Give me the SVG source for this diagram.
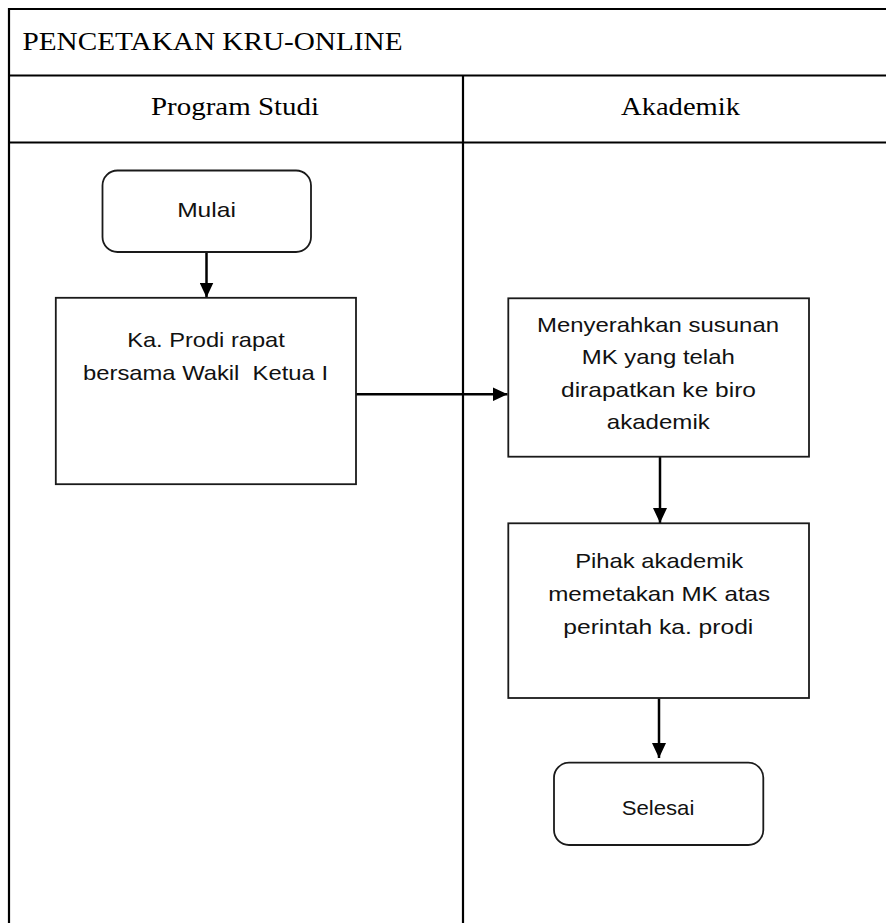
<svg xmlns="http://www.w3.org/2000/svg" width="886" height="923" viewBox="0 0 886 923">
<style>
.frame{stroke:#000;stroke-width:2.2;fill:none}
.box{fill:#fff;stroke:#1a1a1a;stroke-width:1.8}
.t{font-family:"Liberation Sans",Arial,sans-serif;font-size:21px;fill:#111;text-anchor:middle}
.h{font-family:"Liberation Serif","Times New Roman",serif;font-size:25px;fill:#000}
.c{stroke:#000;stroke-width:2.5;fill:none;marker-end:url(#ah)}
</style>
<defs>
<marker id="ah" viewBox="0 0 15 14" refX="15" refY="7" markerWidth="15" markerHeight="14" markerUnits="userSpaceOnUse" orient="auto">
<path d="M0,0 L15,7 L0,14 z" fill="#000"/>
</marker>
</defs>
<rect width="886" height="923" fill="#fff"/>
<g id="frame">
<line class="frame" x1="9" y1="8" x2="9" y2="923"/>
<line class="frame" x1="8" y1="9" x2="886" y2="9"/>
<line class="frame" x1="9" y1="75.5" x2="886" y2="75.5"/>
<line class="frame" x1="9" y1="142.5" x2="886" y2="142.5"/>
<line class="frame" x1="463" y1="75.5" x2="463" y2="923"/>
<text class="h" x="22.5" y="49.5" textLength="380" lengthAdjust="spacingAndGlyphs">PENCETAKAN KRU-ONLINE</text>
<text class="h" x="151" y="115" textLength="168" lengthAdjust="spacingAndGlyphs">Program Studi</text>
<text class="h" x="621" y="115" textLength="119" lengthAdjust="spacingAndGlyphs">Akademik</text>
</g>
<g id="connectors">
<line class="c" x1="206.5" y1="253" x2="206.5" y2="297.5"/>
<line class="c" x1="356" y1="394.3" x2="507.5" y2="394.3"/>
<line class="c" x1="660" y1="457" x2="660" y2="523"/>
<line class="c" x1="659" y1="698.5" x2="659" y2="758"/>
</g>
<g id="mulai">
<rect class="box" x="102.5" y="170.5" width="208.5" height="81.5" rx="15" ry="15"/>
<text class="t" x="206.5" y="216.7" textLength="58.7" lengthAdjust="spacingAndGlyphs">Mulai</text>
</g>
<g id="rapat">
<rect class="box" x="55.8" y="297.8" width="300.2" height="186.4"/>
<text class="t" x="206" y="346.7" textLength="157.7" lengthAdjust="spacingAndGlyphs">Ka. Prodi rapat</text>
<text class="t" x="205.5" y="380" textLength="245" lengthAdjust="spacingAndGlyphs" style="white-space:pre">bersama Wakil  Ketua I</text>
</g>
<g id="menyerahkan">
<rect class="box" x="508.3" y="298.3" width="300.7" height="158.4"/>
<text class="t" x="658" y="331.7" textLength="242" lengthAdjust="spacingAndGlyphs">Menyerahkan susunan</text>
<text class="t" x="658.3" y="364" textLength="153" lengthAdjust="spacingAndGlyphs">MK yang telah</text>
<text class="t" x="658.5" y="396.6" textLength="195" lengthAdjust="spacingAndGlyphs">dirapatkan ke biro</text>
<text class="t" x="658.3" y="429.3" textLength="103" lengthAdjust="spacingAndGlyphs">akademik</text>
</g>
<g id="pihak">
<rect class="box" x="508.3" y="523.3" width="300.7" height="174.7"/>
<text class="t" x="659.2" y="568" textLength="168" lengthAdjust="spacingAndGlyphs">Pihak akademik</text>
<text class="t" x="659.2" y="601.2" textLength="222" lengthAdjust="spacingAndGlyphs">memetakan MK atas</text>
<text class="t" x="658.3" y="633.5" textLength="190" lengthAdjust="spacingAndGlyphs">perintah ka. prodi</text>
</g>
<g id="selesai">
<rect class="box" x="554" y="762.7" width="209.3" height="82.3" rx="15" ry="15"/>
<text class="t" x="658" y="815" textLength="72.7" lengthAdjust="spacingAndGlyphs">Selesai</text>
</g>
</svg>
